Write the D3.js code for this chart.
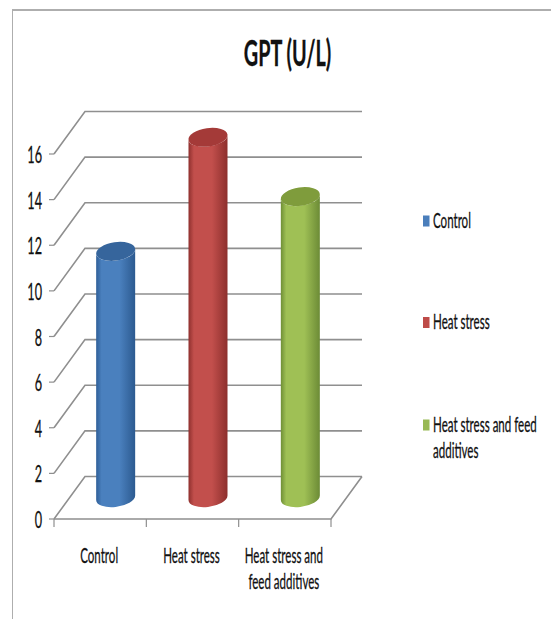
<!DOCTYPE html>
<html>
<head>
<meta charset="utf-8">
<style>
html, body { margin: 0; padding: 0; background: #fff; }
svg { display: block; }
text { font-family: Lato, "Open Sans", sans-serif; fill: #111; stroke: #111; stroke-width: 0.3; }
</style>
<script src="https://cdn.jsdelivr.net/npm/d3@7"></script>
</head>
<body>
<div id="chart"></div>
<script>
// GPT (U/L) by treatment group
const categories = ["Control", "Heat stress", "Heat stress and feed additives"];
const values = [10.8, 15.8, 13.2];
const yTicks = [0, 2, 4, 6, 8, 10, 12, 14, 16];
const axisLabelLines = [["Control"], ["Heat stress"], ["Heat stress and", "feed additives"]];
const legendLabelLines = [["Control"], ["Heat stress"], ["Heat stress and feed", "additives"]];
const sideColors = [["#2f5f98", "#4a80be", "#2c5a90"], ["#8f302e", "#c24f4c", "#8d2f2d"], ["#6f8f36", "#9fc055", "#6c8b36"]];
const capColors = ["#36659c", "#a43a38", "#7f9c3c"];
const legendColors = ["#4a7ebb", "#be4b48", "#98b954"];

const width = 551, height = 619;
const depthX = 31, depthY = 42.5;       // offset of the back wall from the front plane
const tilt = -8 * Math.PI / 180;        // tilt of the cylinder end ellipses
const narrow = 0.55;                    // horizontal condensing of all text

const svg = d3.select("#chart").append("svg").attr("width", width).attr("height", height);

const x = d3.scaleBand().domain(categories).range([54, 331]);
const y = d3.scaleLinear().domain([0, 16]).range([519, 154]);

// Outer frame: top and left edges only
const frame = svg.append("g").attr("fill", "none").attr("stroke", "#aeaeae");
frame.append("path").attr("d", `M12.5,${height}V10`).attr("stroke-width", 1);
frame.append("path").attr("d", `M12,10H${width}`).attr("stroke-width", 2);

// Condensed text helper
function label(parent, str, px, py, size, anchor, weight) {
  return parent.append("text")
    .attr("transform", `translate(${px},${py}) scale(${narrow},1)`)
    .attr("text-anchor", anchor)
    .attr("font-size", size)
    .attr("font-weight", weight || 400)
    .text(str);
}

// Title
label(svg, "GPT (U/L)", 287.5, 66, 36, "middle", 700);

// Walls and floor gridlines
const grid = svg.append("g").attr("fill", "none").attr("stroke", "#8f8f8f").attr("stroke-width", 1.6);
const [x0, x1] = x.range();
yTicks.forEach(t => {
  const py = y(t);
  grid.append("path").attr("d", `M${x0},${py}L${x0 + depthX},${py - depthY}H${x1 + depthX}`);
});
grid.append("path").attr("d", `M${x0},${y(0)}H${x1}L${x1 + depthX},${y(0) - depthY}`);

// Axis tick marks
const tickMarks = svg.append("g").attr("stroke", "#8f8f8f").attr("stroke-width", 1.2);
yTicks.forEach(t => {
  tickMarks.append("line").attr("x1", x0 - 5).attr("x2", x0).attr("y1", y(t)).attr("y2", y(t));
});
categories.forEach(c => {
  tickMarks.append("line").attr("x1", x(c)).attr("x2", x(c)).attr("y1", y(0)).attr("y2", y(0) + 8);
});
tickMarks.append("line").attr("x1", x1).attr("x2", x1).attr("y1", y(0)).attr("y2", y(0) + 8);

// Y tick labels
yTicks.forEach(t => label(svg, t, 42, y(t) + 9, 23, "end", 400));

// Category labels
categories.forEach((c, i) => {
  axisLabelLines[i].forEach((line, j) => {
    label(svg, line, x(c) + x.bandwidth() / 2 - 1, 563 + j * 26, 21, "middle", 400);
  });
});

// Cylinder fills
const defs = svg.append("defs");
sideColors.forEach((stops, i) => {
  const g = defs.append("linearGradient").attr("id", `side${i}`)
    .attr("x1", "0").attr("x2", "1").attr("y1", "0").attr("y2", "0");
  g.append("stop").attr("offset", "0").attr("stop-color", stops[0]);
  g.append("stop").attr("offset", "0.14").attr("stop-color", stops[1]);
  g.append("stop").attr("offset", "0.6").attr("stop-color", stops[1]);
  g.append("stop").attr("offset", "1").attr("stop-color", stops[2]);
});

// Cylinders: a vertical body closed by tilted ellipses
const barHalf = 19.5, capHalf = 9.5;
const sum = barHalf * barHalf + capHalf * capHalf;
const diff = (barHalf * barHalf - capHalf * capHalf) / Math.cos(2 * tilt);
const rx = Math.sqrt((sum + diff) / 2), ry = Math.sqrt((sum - diff) / 2);
const tangentY = diff * Math.sin(tilt) * Math.cos(tilt) / barHalf;
const rot = tilt * 180 / Math.PI;

categories.forEach((c, i) => {
  const cx = x(c) + x.bandwidth() / 2 + depthX / 2;
  const top = y(values[i]) - depthY / 2;
  const base = y(0) - depthY / 2;
  const lx = cx - barHalf, rxp = cx + barHalf;
  const body = `M${lx},${top - tangentY}L${lx},${base - tangentY}` +
    `A${rx},${ry} ${rot} 0 0 ${rxp},${base + tangentY}` +
    `L${rxp},${top + tangentY}` +
    `A${rx},${ry} ${rot} 0 1 ${lx},${top - tangentY}Z`;
  svg.append("path").attr("d", body).attr("fill", `url(#side${i})`);
  svg.append("ellipse")
    .attr("transform", `translate(${cx},${top}) rotate(${rot})`)
    .attr("rx", rx).attr("ry", ry).attr("fill", capColors[i]);
});

// Legend
const legendY = [221, 322.5, 425];
legendLabelLines.forEach((lines, i) => {
  svg.append("rect").attr("x", 423).attr("y", legendY[i] - 5.5)
    .attr("width", 6.5).attr("height", 11).attr("fill", legendColors[i]);
  lines.forEach((line, j) => {
    label(svg, line, 433, legendY[i] + 6.5 + j * 26, 21, "start", 400);
  });
});
</script>
</body>
</html>
